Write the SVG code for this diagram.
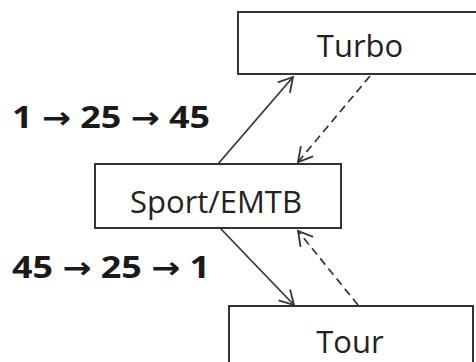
<svg xmlns="http://www.w3.org/2000/svg" width="476" height="362" viewBox="0 0 476 362">
<style>
.box{fill:#fff;stroke:#333;stroke-width:2}
.lbl{font-family:"Open Sans","Liberation Sans",sans-serif;font-size:31px;fill:#222;text-anchor:middle}
.seq{font-family:"Open Sans","Liberation Sans",sans-serif;font-size:31px;font-weight:bold;fill:#1a1a1a}
.arr{font-family:"DejaVu Sans",sans-serif;font-weight:bold;font-size:30px}
.con{stroke:#333;stroke-width:1.7;fill:none}
.dash{stroke-dasharray:8,5}
</style>
<defs>
<marker id="ah" markerUnits="userSpaceOnUse" markerWidth="20" markerHeight="20" refX="15" refY="9" orient="auto" viewBox="0 0 20 18">
<path d="M1,1 L15,9 L1,17" fill="none" stroke="#333" stroke-width="1.8"/>
</marker>
</defs>
<rect width="476" height="362" fill="#fff"/>
<g id="connectors">
<line class="con" x1="218" y1="164" x2="293" y2="77" marker-end="url(#ah)"/>
<line class="con dash" x1="370" y1="76" x2="298" y2="162" marker-end="url(#ah)"/>
<line class="con" x1="220" y1="228" x2="294" y2="305" marker-end="url(#ah)"/>
<line class="con dash" x1="358" y1="305" x2="298" y2="231" marker-end="url(#ah)"/>
</g>
<g id="turbo">
<rect class="box" x="238" y="12" width="242" height="62"/>
<text class="lbl" x="360" y="57">Turbo</text>
</g>
<g id="sport">
<rect class="box" x="95" y="164" width="246" height="64"/>
<text class="lbl" x="216" y="213">Sport/EMTB</text>
</g>
<g id="tour">
<rect class="box" x="229" y="306" width="244" height="62"/>
<text class="lbl" x="350" y="353">Tour</text>
</g>
<g id="labels">
<text class="seq" x="12" y="128" textLength="198" lengthAdjust="spacingAndGlyphs">1 <tspan class="arr">→</tspan> 25 <tspan class="arr">→</tspan> 45</text>
<text class="seq" x="12" y="278" textLength="198" lengthAdjust="spacingAndGlyphs">45 <tspan class="arr">→</tspan> 25 <tspan class="arr">→</tspan> 1</text>
</g>
</svg>
